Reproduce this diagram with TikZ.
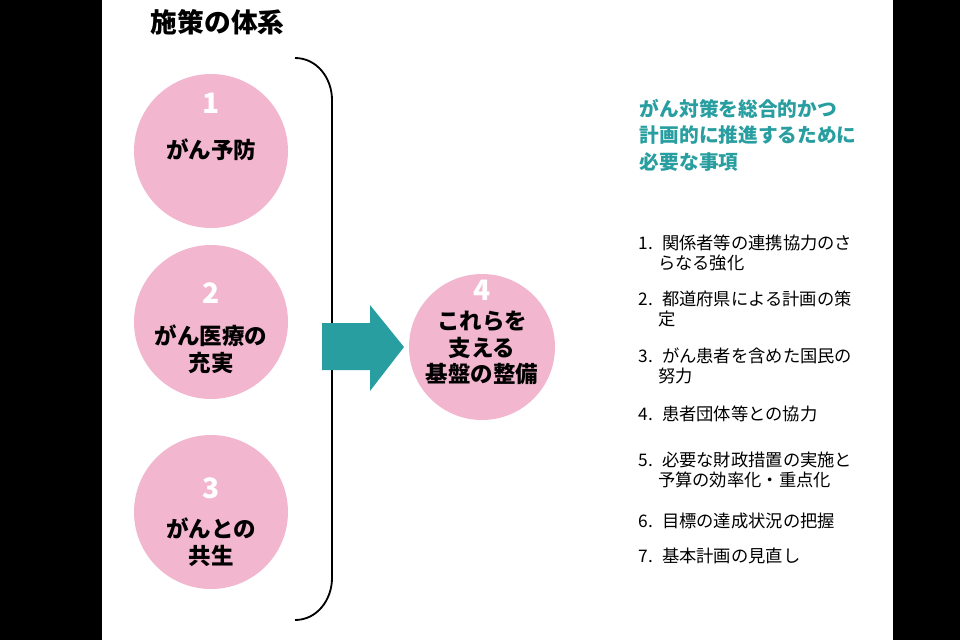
\documentclass[tikz,border=0pt]{standalone}
\usepackage{fontspec}
\setmainfont{Noto Sans CJK JP}
\usetikzlibrary{positioning}
\definecolor{teal1}{RGB}{40,158,160}
\definecolor{pink1}{RGB}{242,182,206}
\tikzset{
  ball/.style={circle,fill=pink1,minimum size=#1},
  num/.style={font=\bfseries\fontsize{20}{20}\selectfont,text=white},
  btxt/.style={font=\bfseries\fontsize{16}{19}\selectfont,align=center},
  item/.style={font=\fontsize{12.3}{14}\selectfont,align=left,anchor=north west,text width=7cm}
}
\begin{document}
\begin{tikzpicture}[x=0.025cm,y=-0.025cm]
\useasboundingbox (0,0) rectangle (960,640);
\fill[black] (0,0) rectangle (102,640);
\fill[black] (893,0) rectangle (960,640);

\node[font=\bfseries\fontsize{19}{20}\selectfont,anchor=west] (title) at (146,22) {施策の体系};

% circles
\node[ball=154*0.025cm] (c1) at (211,151) {};
\node[ball=154*0.025cm] (c2) at (211,322) {};
\node[ball=154*0.025cm] (c3) at (211,512) {};
\node[ball=146*0.025cm] (c4) at (482,347) {};

\node[num] (n1) at (211,103) {1};
\node[btxt] (t1) at (211,150) {がん予防};
\node[num] (n2) at (211,293) {2};
\node[btxt] (t2) at (211,349) {がん医療の\\充実};
\node[num] (n3) at (211,488) {3};
\node[btxt] (t3) at (211,542) {がんとの\\共生};
\node[num] (n4) at (482,290) {4};
\node[btxt] (t4) at (482,348) {これらを\\支える\\基盤の整備};

% bracket
\draw[line width=1.3pt] (295,58) to[out=0,in=90] (332,100) -- (332,578) to[out=-90,in=0] (295,620);

% arrow
\fill[teal1] (322,323) -- (370,323) -- (370,305) -- (404,347) -- (370,391) -- (370,370) -- (322,370) -- cycle;

\node[font=\bfseries\fontsize{14}{19}\selectfont,text=teal1,align=left,anchor=north west] (head) at (635,94) {がん対策を総合的かつ\\計画的に推進するために\\必要な事項};

\node[item] (i1) at (634,230) {1. 関係者等の連携協力のさ\\\hspace*{1.1em}らなる強化};
\node[item] (i2) at (634,286) {2. 都道府県による計画の策\\\hspace*{1.1em}定};
\node[item] (i3) at (634,343) {3. がん患者を含めた国民の\\\hspace*{1.1em}努力};
\node[item] (i4) at (634,401) {4. 患者団体等との協力};
\node[item] (i5) at (634,447) {5. 必要な財政措置の実施と\\\hspace*{1.1em}予算の効率化・重点化};
\node[item] (i6) at (634,508) {6. 目標の達成状況の把握};
\node[item] (i7) at (634,543) {7. 基本計画の見直し};
\end{tikzpicture}
\end{document}
